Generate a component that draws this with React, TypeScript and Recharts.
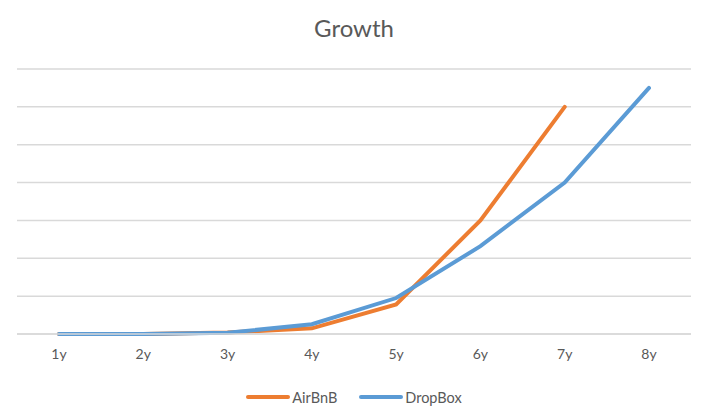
import React from "react";
import { LineChart, Line, XAxis, YAxis, CartesianGrid, Legend } from "recharts";

const years = ["1y", "2y", "3y", "4y", "5y", "6y", "7y", "8y"];
const airbnb: (number | null)[] = [0, 0, 0.4, 1.5, 7.8, 30, 60, null];
const dropbox: number[] = [0, 0, 0.3, 2.6, 9.5, 23.2, 40, 65];
const yTicks = [0, 10, 20, 30, 40, 50, 60, 70];

const data = years.map((name, i) => ({
  name,
  AirBnB: airbnb[i],
  DropBox: dropbox[i],
}));

const font = "Lato, 'Open Sans', sans-serif";
const grey = "#595959";

const LegendContent = (props: any) => {
  const { payload } = props;
  return (
    <div
      style={{
        display: "flex",
        justifyContent: "center",
        alignItems: "center",
        height: 30,
        fontFamily: font,
        fontSize: 14.5,
        color: grey,
      }}
    >
      {(payload || []).map((p: any) => (
        <div key={p.value} style={{ display: "flex", alignItems: "center", margin: "0 11px" }}>
          <svg width={44} height={6} style={{ marginRight: 2 }}>
            <line x1={2} y1={3} x2={42} y2={3} stroke={p.color} strokeWidth={4} strokeLinecap="round" />
          </svg>
          <span>{p.value}</span>
        </div>
      ))}
    </div>
  );
};

export default function App() {
  return (
    <div style={{ position: "absolute", left: 0, top: 0, width: 708, height: 420, background: "#fff" }}>
      <div
        style={{
          position: "absolute",
          top: 13,
          left: 0,
          width: 708,
          textAlign: "center",
          fontFamily: font,
          fontSize: 24,
          color: grey,
        }}
      >
        Growth
      </div>
      <LineChart
        width={708}
        height={420}
        data={data}
        margin={{ top: 69, right: 17, left: 17, bottom: 8 }}
      >
        <CartesianGrid vertical={false} stroke="#D9D9D9" strokeWidth={1.5} />
        <XAxis
          dataKey="name"
          height={48}
          padding={{ left: 42, right: 42 }}
          axisLine={{ stroke: "#D9D9D9", strokeWidth: 1.5 }}
          tickLine={false}
          tickSize={0}
          tickMargin={15}
          tick={{ fill: grey, fontSize: 14, fontFamily: font }}
        />
        <YAxis hide width={0} domain={[0, 70]} ticks={yTicks} />
        <Legend verticalAlign="bottom" height={30} content={<LegendContent />} />
        <Line
          type="linear"
          dataKey="AirBnB"
          stroke="#ED7D31"
          strokeWidth={4}
          strokeLinecap="round"
          dot={false}
          isAnimationActive={false}
        />
        <Line
          type="linear"
          dataKey="DropBox"
          stroke="#5B9BD5"
          strokeWidth={4}
          strokeLinecap="round"
          dot={false}
          isAnimationActive={false}
        />
      </LineChart>
    </div>
  );
}
